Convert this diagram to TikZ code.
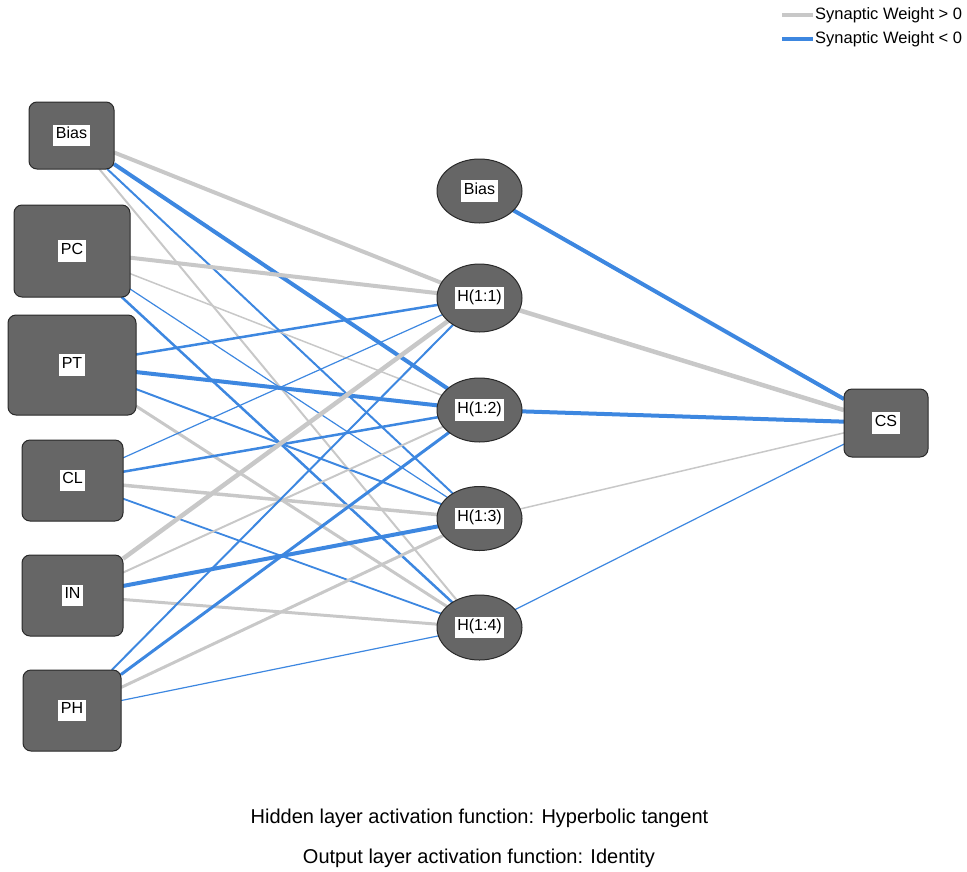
\documentclass[tikz,border=0pt]{standalone}
\usepackage{fontspec}
\setmainfont{Liberation Sans}
\usetikzlibrary{shapes.geometric,backgrounds}
\definecolor{posc}{HTML}{C8C8C8}
\definecolor{negc}{HTML}{3D87E0}
\definecolor{nodefill}{HTML}{666666}
\definecolor{nodeline}{HTML}{2A2A2A}
\newcommand\wlab[1]{{\fontsize{16}{16.5}\selectfont\setlength{\fboxsep}{2.5pt}\colorbox{white}{\strut #1}}}
\begin{document}
\begin{tikzpicture}[x=1pt,y=-1pt,
  inbox/.style={draw=nodeline,fill=nodefill,line width=1pt,rounded corners=8pt,inner sep=0pt,outer sep=0pt},
  hid/.style={ellipse,draw=nodeline,fill=nodefill,line width=1pt,inner sep=0pt,outer sep=0pt,minimum width=85pt,minimum height=66pt},
  pos/.style={draw=posc,line width=#1pt},
  neg/.style={draw=negc,line width=#1pt},
  caption/.style={font=\fontsize{20}{24}\selectfont,inner sep=0pt},
  legtext/.style={font=\fontsize{16.5}{19}\selectfont,anchor=west,inner sep=0pt}
]
\useasboundingbox (0,0) rectangle (967,871);

% input layer
\node[inbox,minimum width=85pt,minimum height=67pt] (ib) at (71.5,135.5) {\wlab{Bias}};
\node[inbox,minimum width=116pt,minimum height=92pt] (pc) at (72,251) {\wlab{PC}};
\node[inbox,minimum width=128pt,minimum height=100pt] (pt) at (72,365) {\wlab{PT}};
\node[inbox,minimum width=101pt,minimum height=81pt] (cl) at (72.5,480.5) {\wlab{CL}};
\node[inbox,minimum width=101pt,minimum height=81pt] (in) at (72.5,595.5) {\wlab{IN}};
\node[inbox,minimum width=98pt,minimum height=81pt] (ph) at (72,710.5) {\wlab{PH}};

% hidden layer
\node[hid,minimum height=64pt] (hb) at (479.5,191) {\wlab{Bias}};
\node[hid,minimum height=68pt] (h1) at (479.5,298) {\wlab{H(1:1)}};
\node[hid,minimum height=64pt] (h2) at (479.5,410) {\wlab{H(1:2)}};
\node[hid,minimum height=64pt] (h3) at (479.5,518.5) {\wlab{H(1:3)}};
\node[hid,minimum height=65pt] (h4) at (479.5,627.5) {\wlab{H(1:4)}};

% output
\node[inbox,minimum width=84pt,minimum height=68pt] (cs) at (886,423) {\wlab{CS}};

\begin{scope}[on background layer]
% Bias
\draw[pos=4] (ib) -- (h1);
\draw[neg=4] (ib) -- (h2);
\draw[neg=2] (ib) -- (h3);
\draw[pos=2] (ib) -- (h4);
% PC
\draw[pos=4] (pc) -- (h1);
\draw[pos=1.5] (pc) -- (h2);
\draw[neg=1.2] (pc) -- (h3);
\draw[neg=2.5] (pc) -- (h4);
% PT
\draw[neg=2.5] (pt) -- (h1);
\draw[neg=4] (pt) -- (h2);
\draw[neg=2] (pt) -- (h3);
\draw[pos=3] (pt) -- (h4);
% CL
\draw[neg=1.2] (cl) -- (h1);
\draw[neg=2.5] (cl) -- (h2);
\draw[pos=3.5] (cl) -- (h3);
\draw[neg=1.8] (cl) -- (h4);
% IN
\draw[pos=4.5] (in) -- (h1);
\draw[pos=2] (in) -- (h2);
\draw[neg=4] (in) -- (h3);
\draw[pos=3] (in) -- (h4);
% PH
\draw[neg=2] (ph) -- (h1);
\draw[neg=3] (ph) -- (h2);
\draw[pos=3] (ph) -- (h3);
\draw[neg=1.2] (ph) -- (h4);
% hidden -> output
\draw[neg=4] (hb) -- (cs);
\draw[pos=4.5] (h1) -- (cs);
\draw[neg=4] (h2) -- (cs);
\draw[pos=1.5] (h3) -- (cs);
\draw[neg=1.2] (h4) -- (cs);
\end{scope}

% legend
\coordinate (lga) at (782,15);
\coordinate (lgb) at (813,15);
\coordinate (lgc) at (782,39);
\coordinate (lgd) at (813,39);
\draw[pos=4] (lga) -- (lgb);
\draw[neg=4] (lgc) -- (lgd);
\node[legtext] (lt1) at (815,15) {Synaptic Weight > 0};
\node[legtext] (lt2) at (815,39) {Synaptic Weight < 0};

% captions
\node[caption] (cap1) at (479.5,818) {Hidden layer activation function: Hyperbolic tangent};
\node[caption] (cap2) at (479,858) {Output layer activation function: Identity};
\end{tikzpicture}
\end{document}
